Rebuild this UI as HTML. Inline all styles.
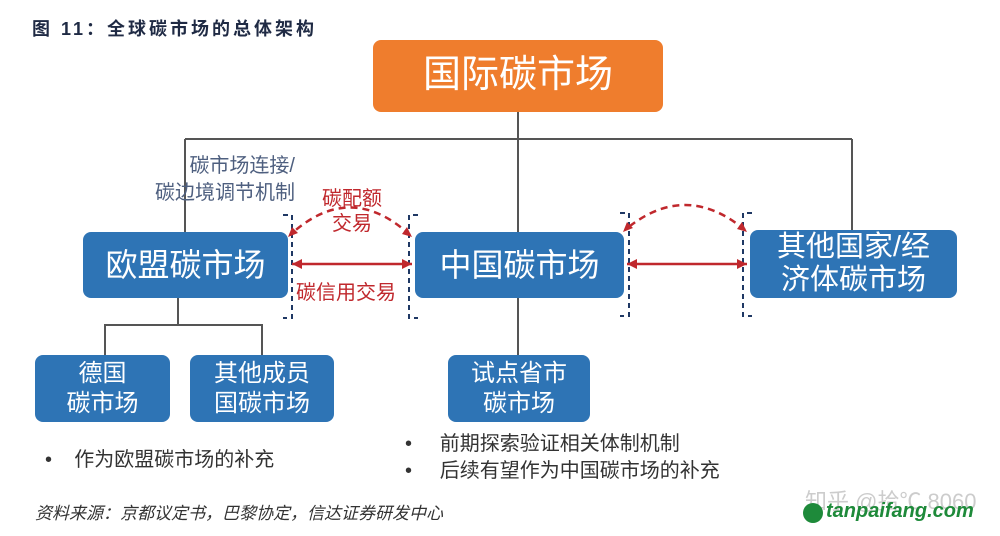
<!DOCTYPE html>
<html><head><meta charset="utf-8"><style>
body{margin:0;width:1000px;height:536px;background:#fff;position:relative;overflow:hidden;font-family:"Liberation Sans","Noto Sans CJK SC",sans-serif}
.a{position:absolute}
.box{position:absolute;background:#2e74b5;color:#fff;border-radius:8px;display:flex;align-items:center;justify-content:center;text-align:center;line-height:1.15}
</style></head><body>
<svg class="a" style="left:0;top:0" width="1000" height="536">
<g stroke="#555" stroke-width="2" fill="none">
<path d="M518 112V232M185 139H852M185 139V232M852 139V230M178 298V325H105V355M178 325H262V355M518 298V355"/>
</g>
<g stroke="#1f3864" stroke-width="2" fill="none" stroke-dasharray="5 4">
<path d="M283 215H292V318H283M418 215H409V318H418M620 213H629V316H620M752 213H743V316H752"/>
</g>
<g stroke="#c0282d" stroke-width="2.5" fill="none">
<path d="M292 264H412M627 264H747"/>
<path d="M410 235Q350 180 290 235M745 230Q685 180 625 230" stroke-dasharray="7 5"/>
</g>
<g fill="#c0282d">
<path d="M292 264l10 -5v10zM412 264l-10 -5v10zM627 264l10 -5v10zM747 264l-10 -5v10z"/>
<path d="M288 237l4 -10 6 6zM412 237l-10 -3 5 -7zM623 232l4 -10 6 6zM747 232l-10 -3 5 -7z"/>
</g>
</svg>
<div class="a" style="left:32px;top:15px;font-size:18px;font-weight:bold;color:#1f2a44;letter-spacing:3px">图 11：全球碳市场的总体架构</div>
<div class="box" style="left:373px;top:40px;width:290px;height:72px;background:#ef7d2d;font-size:38px">国际碳市场</div>
<div class="a" style="left:130px;top:153px;font-size:20px;color:#4e5f7f;line-height:27px;text-align:right;width:165px">碳市场连接/<br>碳边境调节机制</div>
<div class="a" style="left:314px;top:187px;font-size:20px;color:#c0282d;line-height:25px;text-align:center;width:76px">碳配额<br>交易</div>
<div class="a" style="left:296px;top:276px;font-size:20px;color:#c0282d">碳信用交易</div>
<div class="box" style="left:83px;top:232px;width:205px;height:66px;font-size:32px">欧盟碳市场</div>
<div class="box" style="left:415px;top:232px;width:209px;height:66px;font-size:32px">中国碳市场</div>
<div class="box" style="left:750px;top:230px;width:207px;height:68px;font-size:29px">其他国家/经<br>济体碳市场</div>
<div class="box" style="left:35px;top:355px;width:135px;height:67px;font-size:24px;line-height:30px">德国<br>碳市场</div>
<div class="box" style="left:190px;top:355px;width:144px;height:67px;font-size:24px;line-height:30px">其他成员<br>国碳市场</div>
<div class="box" style="left:448px;top:355px;width:142px;height:67px;font-size:24px;line-height:30px">试点省市<br>碳市场</div>
<div class="a" style="left:45px;top:443px;font-size:20px;color:#333">•&nbsp;&nbsp;&nbsp;&nbsp;作为欧盟碳市场的补充</div>
<div class="a" style="left:405px;top:431px;font-size:20px;color:#333;line-height:27px">•&nbsp;&nbsp;&nbsp;&nbsp;&nbsp;前期探索验证相关体制机制<br>•&nbsp;&nbsp;&nbsp;&nbsp;&nbsp;后续有望作为中国碳市场的补充</div>
<div class="a" style="left:35px;top:499px;font-size:17px;color:#333;font-style:italic">资料来源：京都议定书，巴黎协定，信达证券研发中心</div>
<div class="a" style="left:805px;top:484px;font-size:22px;color:#ccc">知乎 @拾℃ 8060</div>
<div class="a" style="left:803px;top:503px;width:20px;height:20px;border-radius:50%;background:#1e8a3a"></div>
<div class="a" style="left:826px;top:500px;font-size:20px;font-weight:bold;font-style:italic;color:#1e8a3a">tanpaifang.com</div>
</body></html>
